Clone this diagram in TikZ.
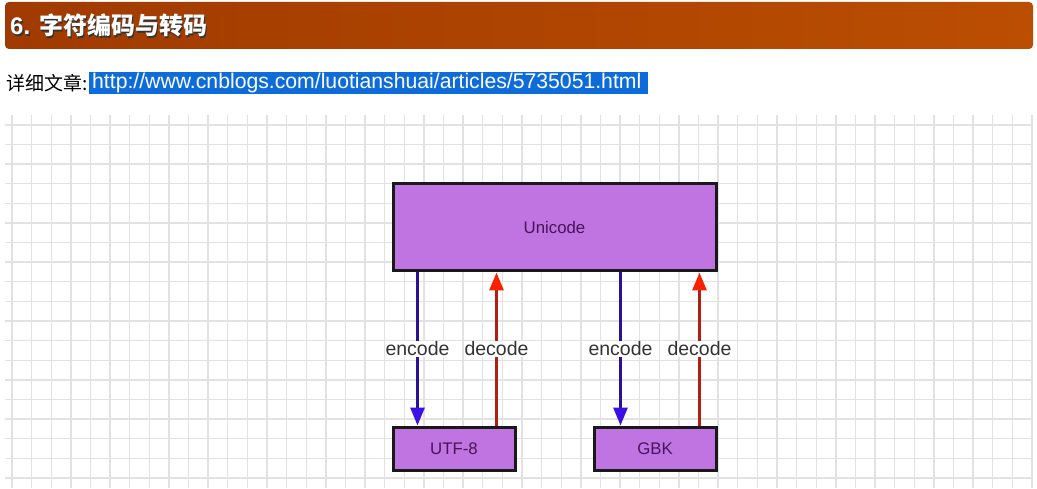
\documentclass[tikz,border=0pt]{standalone}
\usepackage{fontspec}
\setmainfont{Liberation Sans}
\setsansfont{Liberation Sans}
\newfontfamily\cjk{Noto Sans CJK SC}
\usetikzlibrary{arrows.meta,calc}
\definecolor{barL}{RGB}{160,58,0}
\definecolor{barR}{RGB}{187,78,2}
\definecolor{selblue}{RGB}{14,108,218}
\definecolor{boxfill}{RGB}{192,116,226}
\definecolor{boxtext}{RGB}{72,20,90}
\definecolor{encline}{RGB}{44,16,150}
\definecolor{enchead}{RGB}{60,16,226}
\definecolor{decline}{RGB}{176,32,16}
\definecolor{dechead}{RGB}{250,32,0}
\definecolor{gridc}{RGB}{226,226,226}
\tikzset{
  gridline/.style={draw=gridc, line width=1.4pt},
  box/.style={draw=black!90, line width=3pt, fill=boxfill, text=boxtext, font=\fontsize{16.8}{18}\selectfont, inner sep=0pt},
  enc/.style={draw=encline, line width=3pt, -{Triangle[width=14pt,length=18pt,color=enchead]}},
  dec/.style={draw=decline, line width=3pt, -{Triangle[width=14pt,length=18pt,color=dechead]}},
  lbl/.style={fill=white, text=black!80, font=\fontsize{19.5}{21}\selectfont, inner sep=1pt}
}
\begin{document}
\begin{tikzpicture}[x=1pt,y=-1pt]
\useasboundingbox (0,0) rectangle (1037,489);
\fill[white] (0,0) rectangle (1037,489);
% header bar
\shade[left color=barL, right color=barR, rounded corners=4pt] (5,2) rectangle (1033,49);
\node[anchor=west, text=black!80, inner sep=0pt] (titleshadow) at (11.5,27) {\fontsize{24}{26}\selectfont\bfseries 6. {\cjk\bfseries 字符编码与转码}};
\node[anchor=west, text=white, inner sep=0pt] (title) at (10,25.5) {\fontsize{24}{26}\selectfont\bfseries 6. {\cjk\bfseries 字符编码与转码}};
% link line
\node[anchor=west, inner sep=0pt] (lead) at (6,83) {\cjk\fontsize{19}{21}\selectfont 详细文章:};
\fill[selblue] (89,72) rectangle (648,94);
\node[anchor=west, text=white, inner sep=0pt] (url) at (92,83) {\fontsize{21.2}{22}\selectfont http://www.cnblogs.com/luotianshuai/articles/5735051.html};
% grid
\begin{scope}
\clip (5,115) rectangle (1033,488);
\foreach \i in {0,...,52} \draw[gridline] ({12+19.615*\i},115) -- ({12+19.615*\i},488);
\foreach \j in {0,...,18} \draw[gridline] (5,{125+19.6*\j}) -- (1033,{125+19.6*\j});
\end{scope}
% boxes
\node[box, minimum width=323pt, minimum height=87pt] (uni) at (554.5,227.5) {Unicode};
\node[box, minimum width=122pt, minimum height=43pt] (utf) at (454,448.5) {UTF-8};
\node[box, minimum width=122pt, minimum height=43pt] (gbk) at (655,448.5) {GBK};
% arrow anchors
\coordinate (e1) at ($(utf.north west)+(26,0)$);
\coordinate (d1) at ($(utf.north east)+(-20,0)$);
\coordinate (e2) at ($(gbk.north west)+(28,0)$);
\coordinate (d2) at ($(gbk.north east)+(-18,0)$);
\draw[enc] (e1 |- uni.south) -- node[lbl] (le1) {encode} (e1);
\draw[dec] (d1) -- node[lbl] (ld1) {decode} (d1 |- uni.south);
\draw[enc] (e2 |- uni.south) -- node[lbl] (le2) {encode} (e2);
\draw[dec] (d2) -- node[lbl] (ld2) {decode} (d2 |- uni.south);
\end{tikzpicture}
\end{document}
